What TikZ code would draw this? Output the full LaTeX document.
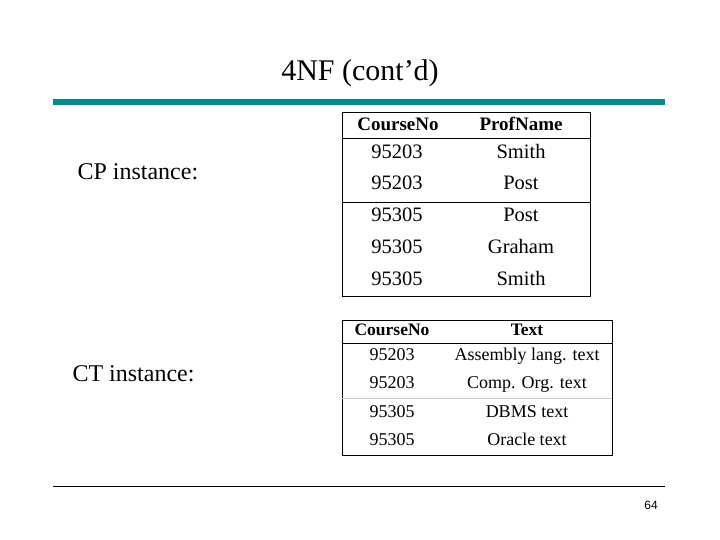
\documentclass[tikz,border=0pt]{standalone}
\usepackage{fontspec}
\setmainfont{Liberation Serif}
\newfontfamily\sansf{Liberation Sans}
\definecolor{tealbar}{RGB}{0,140,140}
\begin{document}
\begin{tikzpicture}[x=1pt,y=-1pt,
  cell/.style={text height=1.5ex,text depth=.3ex,inner sep=0pt},
  tA/.style={cell,font=\fontsize{20.5}{22}\selectfont},
  tAh/.style={cell,font=\fontsize{19}{22}\selectfont\bfseries},
  tB/.style={cell,font=\fontsize{18}{20}\selectfont},
  tBh/.style={cell,font=\fontsize{17.5}{20}\selectfont\bfseries},
  lab/.style={font=\fontsize{24}{28}\selectfont,anchor=west}]
\useasboundingbox (0,0) rectangle (720,540);
\node[font=\fontsize{30}{34}\selectfont] (title) at (360,73) {4NF (cont'd)};
\draw[tealbar,line width=6pt] (53,102) -- (665,102);
\draw[line width=0.8pt] (53,486) -- (665,486);
\node[font=\sansf\fontsize{12}{14}\selectfont] (pg) at (651,505) {64};
\node[lab] (cp) at (74,172) {CP instance:};
\node[lab] (ct) at (69,374) {CT instance:};
% table 1
\draw[line width=1pt] (342,113) rectangle (590,296);
\draw (342,138) -- (590,138);
\draw (342,202) -- (590,202);
\node[tAh] (h1) at (398,128) {CourseNo};
\node[tAh] (h2) at (521,128) {ProfName};
\foreach \y/\a/\b [count=\i] in {156/95203/Smith,187/95203/Post,219/95305/Post,251/95305/Graham,283/95305/Smith}{
  \node[tA] (a\i) at (397,\y) {\a};
  \node[tA] (b\i) at (521,\y) {\b};}
% table 2
\draw[line width=1pt] (342,320) rectangle (612,455);
\draw (342,343) -- (612,343);
\draw[gray!40] (342,398) -- (612,398);
\node[tBh] (g1) at (392,333) {CourseNo};
\node[tBh] (g2) at (527,333) {Text};
\foreach \y/\a/\b [count=\i] in {358/95203/Assembly lang. text,386/95203/Comp. Org. text,415/95305/DBMS text,443/95305/Oracle text}{
  \node[tB] (c\i) at (392,\y) {\a};
  \node[tB] (d\i) at (527,\y) {\b};}
\end{tikzpicture}
\end{document}
